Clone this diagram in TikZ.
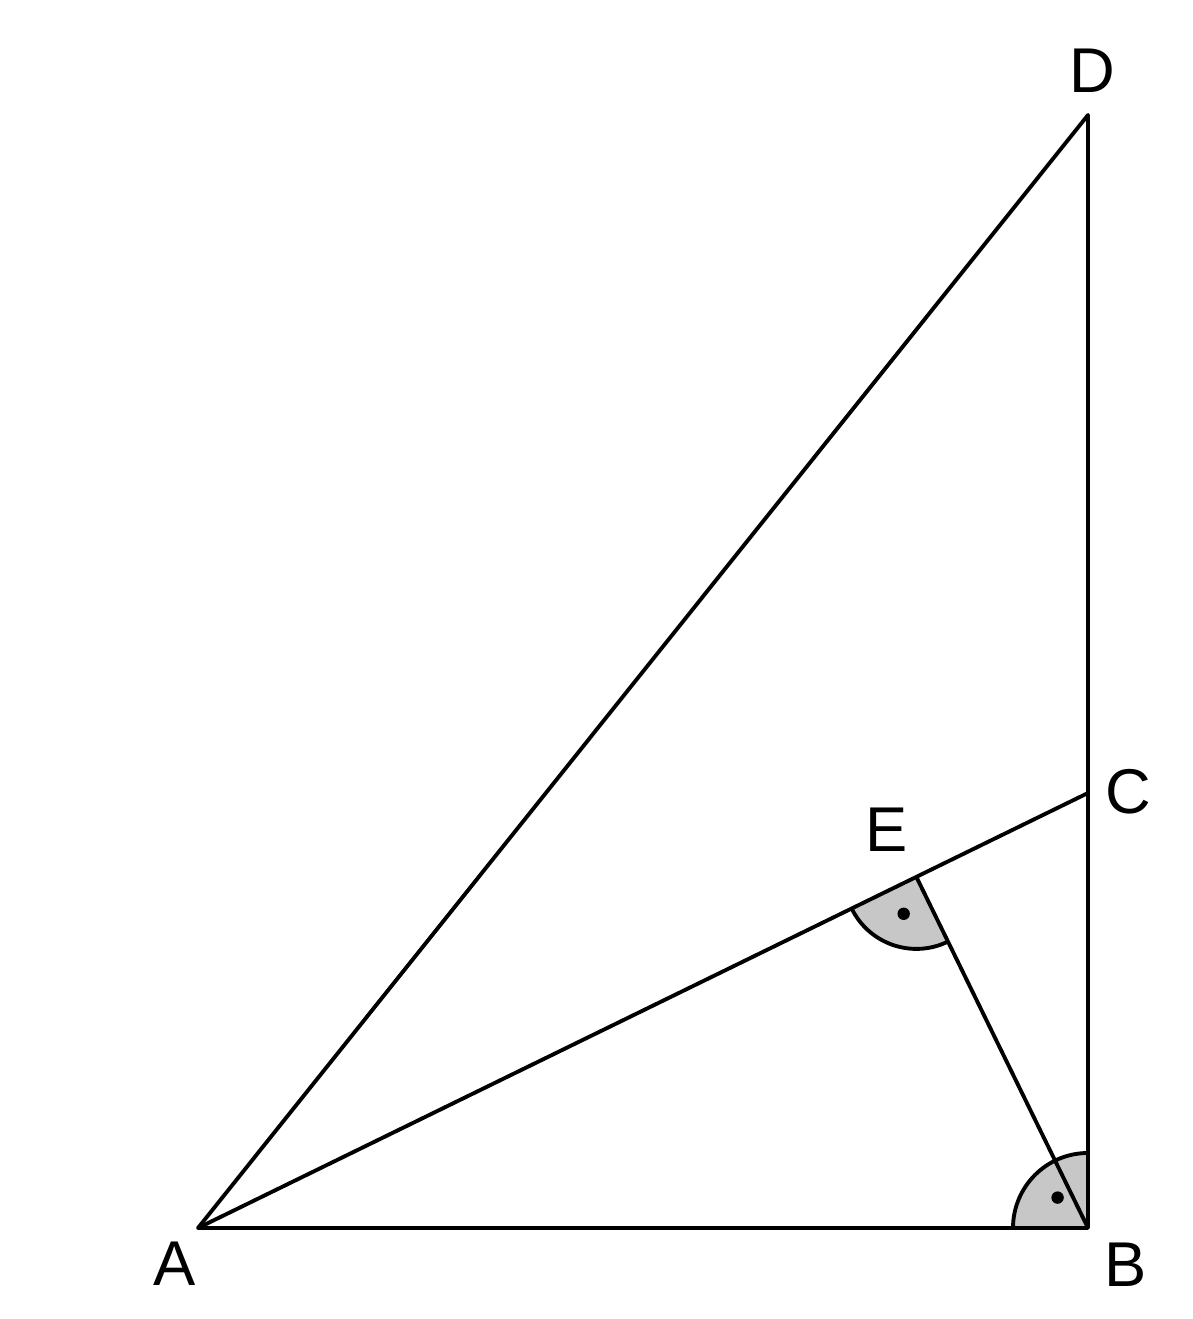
\documentclass[tikz,border=0pt]{standalone}
\usepackage{fontspec}
\setmainfont{Liberation Sans}
\usetikzlibrary{calc}

\begin{document}
\begin{tikzpicture}
	\tikzset{side/.style={line width=1.1pt,line join=round}}
	\tikzset{vertexlabel/.style={font=\fontsize{18}{20}\selectfont,inner sep=0pt}}
	\useasboundingbox (0,0) rectangle (11.92,13.19);
	\coordinate (A) at (1.98,0.91);
	\coordinate (B) at (10.88,0.91);
	\coordinate (C) at (10.88,5.26);
	\coordinate (D) at (10.88,12.04);
	\coordinate (E) at ($(A)!(B)!(C)$);
	\pgfmathsetmacro{\angAC}{atan2(4.35,8.90)}
	% right angles
	\fill[black!22] (E) -- ++(180+\angAC:0.72) arc[start angle=180+\angAC,end angle=270+\angAC,radius=0.72] -- cycle;
	\draw[side] (E) ++(180+\angAC:0.72) arc[start angle=180+\angAC,end angle=270+\angAC,radius=0.72];
	\fill[black!22] (B) -- ++(90:0.75) arc[start angle=90,end angle=180,radius=0.75] -- cycle;
	\draw[side] (B) ++(90:0.75) arc[start angle=90,end angle=180,radius=0.75];
	\fill (E) ++(225+\angAC:0.39) circle (0.062);
	\fill (B) ++(135:0.43) circle (0.062);
	% sides
	\draw[side] (A) -- (B) -- (D) -- cycle;
	\draw[side] (A) -- (C);
	\draw[side] (E) -- (B);
	% labels
	\node[vertexlabel] (labelA) at (1.75,0.55) {A};
	\node[vertexlabel] (labelB) at (11.26,0.54) {B};
	\node[vertexlabel] (labelC) at (11.28,5.27) {C};
	\node[vertexlabel] (labelD) at (10.92,12.48) {D};
	\node[vertexlabel] (labelE) at (8.87,4.89) {E};
\end{tikzpicture}
\end{document}
